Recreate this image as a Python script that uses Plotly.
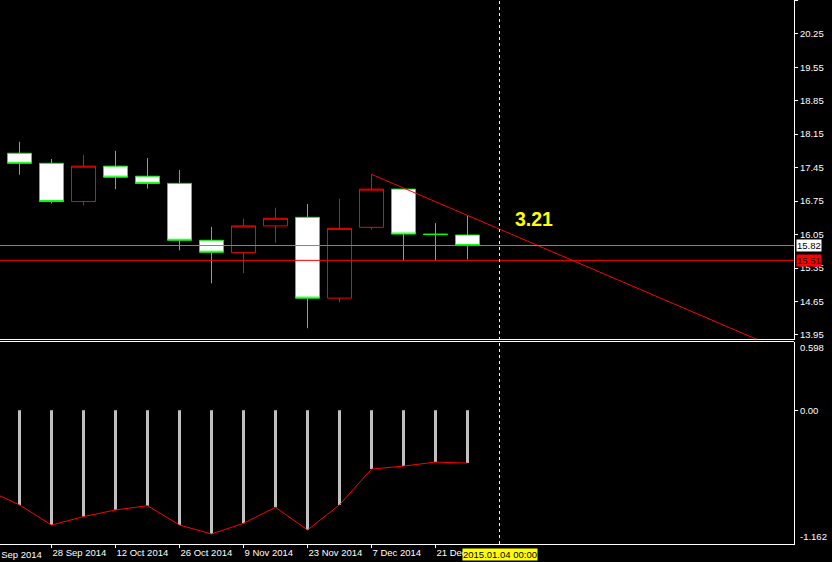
import pandas as pd
import plotly.graph_objects as go

# ---------------- data ----------------
dates = pd.date_range("2014-09-21", periods=15, freq="7D")
opens  = [17.75, 17.54, 16.74, 17.48, 17.27, 17.12, 15.93, 15.67, 16.23, 16.41, 14.72, 16.20, 17.00, 16.06, 16.04]
highs  = [17.99, 17.63, 17.71, 17.80, 17.65, 17.40, 16.21, 16.38, 16.61, 16.69, 16.80, 17.31, 17.00, 16.29, 16.45]
lows   = [17.30, 16.70, 16.66, 17.00, 17.01, 15.72, 15.03, 15.24, 15.88, 14.09, 14.63, 16.15, 15.51, 15.51, 15.53]
closes = [17.54, 16.74, 17.48, 17.25, 17.12, 15.93, 15.68, 16.23, 16.39, 14.72, 16.18, 17.00, 16.06, 16.05, 15.82]

osc_hist = [-0.822, -0.997, -0.924, -0.866, -0.829, -0.997, -1.075, -0.982, -0.843, -1.040,
            -0.822, -0.511, -0.485, -0.450, -0.459]
sig_dates = pd.date_range("2014-09-14", periods=16, freq="7D")
osc_signal = [-0.694, -0.822, -0.997, -0.924, -0.866, -0.829, -0.997, -1.075, -0.982, -0.843,
              -1.040, -0.822, -0.511, -0.485, -0.450, -0.459]

price_ticks = [13.95, 14.65, 15.35, 16.05, 16.75, 17.45, 18.15, 18.85, 19.55, 20.25, 20.95]
osc_max, osc_min = 0.598, -1.162
bid_price, low_line = 15.82, 15.51
label_dates = pd.date_range("2014-09-14", periods=8, freq="14D")
vline_date = pd.Timestamp("2015-01-04")
trend_start_idx, trend_end_idx = 11, 14
note_text = "3.21"

# ---------------- layout constants ----------------
W, H = 832, 562
ML, MR, MT, MB = 0, 38, 0, 18
plot_w = W - ML - MR
px_per_week = 32.0
week = pd.Timedelta(days=7)
r0 = dates[0] - week * (19.5 / px_per_week)
r1 = r0 + week * (plot_w / px_per_week)

plot_h = H - MT - MB
main_dom = [(plot_h - 339.5) / plot_h, 1.0]
osc_dom = [0.0, (plot_h - 341.5) / plot_h]

FONT = "Liberation Sans, Arial, sans-serif"
FS = 9.5

fig = go.Figure()

fig.add_trace(go.Candlestick(
    x=dates, open=opens, high=highs, low=lows, close=closes,
    increasing=dict(line=dict(color="#FF0000", width=1), fillcolor="#000000"),
    decreasing=dict(line=dict(color="#00FF00", width=1), fillcolor="#FFFFFF"),
    whiskerwidth=0, xaxis="x", yaxis="y", hoverinfo="skip", showlegend=False,
))

bar_w = (week * (3 / px_per_week)).total_seconds() * 1000
fig.add_trace(go.Bar(
    x=dates, y=osc_hist, width=bar_w, marker=dict(color="#C0C0C0", line=dict(width=0)),
    xaxis="x", yaxis="y2", hoverinfo="skip", showlegend=False,
))
fig.add_trace(go.Scatter(
    x=sig_dates, y=osc_signal, mode="lines", line=dict(color="#FF0000", width=1),
    xaxis="x", yaxis="y2", hoverinfo="skip", showlegend=False,
))

# trend line (ray through two highs)
slope = (highs[trend_end_idx] - highs[trend_start_idx]) / (trend_end_idx - trend_start_idx)
far = 20
shapes = [
    dict(type="line", xref="x", yref="y",
         x0=dates[trend_start_idx], y0=highs[trend_start_idx],
         x1=dates[trend_start_idx] + week * far, y1=highs[trend_start_idx] + slope * far,
         line=dict(color="#FF0000", width=1)),
    dict(type="line", xref="paper", yref="y", x0=0, x1=1, y0=bid_price, y1=bid_price,
         line=dict(color="#778899", width=1)),
    dict(type="line", xref="paper", yref="y", x0=0, x1=1, y0=low_line, y1=low_line,
         line=dict(color="#FF0000", width=1)),
    dict(type="line", xref="paper", yref="y domain", x0=0, x1=1, y0=0, y1=0,
         line=dict(color="#FFFFFF", width=1)),
    dict(type="line", xref="paper", yref="y2 domain", x0=0, x1=1, y0=1, y1=1,
         line=dict(color="#FFFFFF", width=1)),
    dict(type="line", xref="x", yref="paper", x0=vline_date, x1=vline_date, y0=0, y1=1,
         line=dict(color="#FFFF80", width=1, dash="dot")),
]

first_lbl_frac = (label_dates[0] - r0) / (r1 - r0)
annotations = [
    dict(xref="paper", x=1, yref="y", y=bid_price, xanchor="left", yanchor="middle",
         text=f"{bid_price:.2f}", showarrow=False, xshift=2, bgcolor="#FFFFFF",
         borderpad=0, font=dict(family=FONT, size=FS, color="#000000")),
    dict(xref="paper", x=1, yref="y", y=low_line, xanchor="left", yanchor="middle",
         text=f"{low_line:.2f}", showarrow=False, xshift=2, bgcolor="#FF0000",
         borderpad=0, font=dict(family=FONT, size=FS, color="#000000")),
    dict(xref="paper", x=1, yref="y2", y=osc_max, xanchor="left", yanchor="top",
         text=f"{osc_max:.3f}", showarrow=False, xshift=4, yshift=1,
         font=dict(family=FONT, size=FS, color="#FFFFFF")),
    dict(xref="paper", x=1, yref="y2", y=osc_min, xanchor="left", yanchor="bottom",
         text=f"{osc_min:.3f}", showarrow=False, xshift=4,
         font=dict(family=FONT, size=FS, color="#FFFFFF")),
    dict(xref="paper", x=first_lbl_frac, yref="paper", y=0, xanchor="left", yanchor="top",
         text=label_dates[0].strftime("%-d %b %Y"), showarrow=False, xshift=-2, yshift=-3,
         font=dict(family=FONT, size=FS, color="#FFFFFF")),
    dict(xref="x", x=vline_date, yref="paper", y=0, xanchor="center", yanchor="top",
         text=vline_date.strftime("%Y.%m.%d %H:%M"), showarrow=False, yshift=-4,
         bgcolor="#FFFF00", borderpad=0, font=dict(family=FONT, size=FS, color="#000000")),
    dict(xref="x", x=vline_date + week * 1.09, yref="y", y=16.37, xanchor="center",
         yanchor="middle", text=note_text, showarrow=False,
         font=dict(family=FONT, size=19.5, color="#FFFF00", weight="bold")),
]

fig.update_layout(
    width=W, height=H,
    margin=dict(l=ML, r=MR, t=MT, b=MB, pad=0),
    paper_bgcolor="#000000", plot_bgcolor="#000000",
    showlegend=False, boxgap=0.25, boxgroupgap=0, hovermode=False,
    xaxis=dict(
        type="date", range=[r0, r1], domain=[0, 1], anchor="y2",
        rangeslider=dict(visible=False), showgrid=False, zeroline=False,
        showline=True, linecolor="#FFFFFF", linewidth=1,
        ticks="outside", ticklen=3, tickcolor="#FFFFFF", tickwidth=1,
        tickvals=list(label_dates), ticktext=[d.strftime("%-d %b %Y") for d in label_dates],
        ticklabelposition="outside right",
        tickfont=dict(family=FONT, size=FS, color="#FFFFFF"),
    ),
    yaxis=dict(
        domain=main_dom, anchor="x", side="right", range=[13.855, 20.955],
        showgrid=False, zeroline=False, showline=True, linecolor="#FFFFFF", linewidth=1,
        ticks="outside", ticklen=3, tickcolor="#FFFFFF",
        tickvals=price_ticks, ticktext=[f"{v:.2f}" for v in price_ticks],
        tickfont=dict(family=FONT, size=FS, color="#FFFFFF"),
    ),
    yaxis2=dict(
        domain=osc_dom, anchor="x", side="right", range=[osc_min, osc_max],
        showgrid=False, zeroline=False, showline=True, linecolor="#FFFFFF", linewidth=1,
        ticks="outside", ticklen=3, tickcolor="#FFFFFF",
        tickvals=[0], ticktext=["0.00"],
        tickfont=dict(family=FONT, size=FS, color="#FFFFFF"),
    ),
    shapes=shapes, annotations=annotations,
)

fig.write_html(
    "out.html",
    config={"displayModeBar": False},
    post_script="document.body.style.margin='0';document.body.style.background='#000';"
                "document.body.style.overflow='hidden';",
)
